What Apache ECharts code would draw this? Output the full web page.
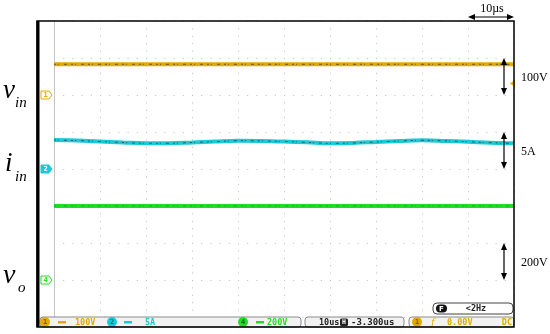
<!DOCTYPE html>
<html>
<head>
<meta charset="utf-8">
<script src="https://cdn.jsdelivr.net/npm/echarts@6/dist/echarts.min.js"></script>
<style>
html, body { margin: 0; padding: 0; background: #fff; }
#main { width: 550px; height: 334px; }
</style>
</head>
<body>
<div id="main"></div>
<script>
// time base in µs, 10 div x 10µs/div
const timeUs = [0, 5, 10, 15, 20, 25, 30, 35, 40, 45, 50, 55, 60, 65, 70, 75, 80, 85, 90, 95, 100];
// ch1 input voltage (V)
const vinV = [83, 83, 83, 83, 83, 83, 83, 83, 83, 83, 83, 83, 83, 83, 83, 83, 83, 83, 83, 83, 83];
// ch2 input current (A), small ripple
const iinA = [3.92, 3.84, 3.72, 3.58, 3.47, 3.48, 3.58, 3.70, 3.82, 3.80, 3.72, 3.60, 3.47, 3.52, 3.65, 3.78, 3.88, 3.80, 3.68, 3.55, 3.47];
// ch4 output voltage (V)
const voV = [400, 400, 400, 400, 400, 400, 400, 400, 400, 400, 400, 400, 400, 400, 400, 400, 400, 400, 400, 400, 400];

// channel settings: scale per division and ground marker (divisions from top)
const perDiv = [100, 5, 200];
const scaleLabels = ['100V', '5A', '200V'];
const groundDiv = [2, 4, 7];
const chNames = ['1', '2', '4'];
const chColors = ['#e2aa00', '#1cc9d6', '#22dd22'];
const timeLabel = '10µs';

window.onload = () => {
    let chart = echarts.init(document.getElementById('main'));

    const dotX = { color: '#bcbcbc', width: 1, type: [1, 6.4] };
    const dotY = { color: '#bcbcbc', width: 1, type: [1, 8.2] };

    const yAxes = perDiv.map((s, k) => ({
        type: 'value',
        min: -(8 - groundDiv[k]) * s,
        max: groundDiv[k] * s,
        interval: s,
        show: k === 0,
        axisLabel: { show: false },
        axisTick: { show: false },
        axisLine: { show: k === 0, lineStyle: { color: '#c4c4c4', width: 1 } },
        splitLine: { show: k === 0, lineStyle: dotY }
    }));

    const traces = [vinV, iinA, voV];
    let series = [];
    traces.forEach((vals, k) => {
        let pts = timeUs.map((t, i) => [t, vals[i]]);
        series.push({
            type: 'line', yAxisIndex: k, data: pts, showSymbol: false, smooth: 0.4,
            silent: true, lineStyle: { color: chColors[k], width: 4 }, z: 3
        });
        // dark acquisition speckles on the trace
        series.push({
            type: 'line', yAxisIndex: k, data: pts, showSymbol: false, smooth: 0.4,
            silent: true, lineStyle: { color: '#1a1a1a', width: 1, type: [2, 2, 1, 5, 3, 4], opacity: k === 2 ? 0.25 : 0.6 }, z: 4
        });
    });

    let option = {
        animation: false,
        backgroundColor: '#fff',
        grid: { left: 54, top: 21, width: 460, height: 296 },
        xAxis: {
            type: 'value', min: 0, max: 100, interval: 10,
            axisLabel: { show: false }, axisTick: { show: false },
            axisLine: { show: false },
            splitLine: { show: true, lineStyle: dotX }
        },
        yAxis: yAxes,
        series: series
    };
    chart.setOption(option);

    // annotations placed from the axes
    const px = (t) => chart.convertToPixel({ xAxisIndex: 0 }, t);
    const py = (k, v) => chart.convertToPixel({ yAxisIndex: k }, v);
    const right = px(100), top = py(0, yAxes[0].max);

    let g = [];
    const arrowV = (x, y1, y2) => {
        g.push({ type: 'line', shape: { x1: x, y1: y1 + 5, x2: x, y2: y2 - 5 }, style: { stroke: '#000', lineWidth: 1.2 }, z: 20 });
        g.push({ type: 'polygon', shape: { points: [[x, y1], [x - 3, y1 + 7], [x + 3, y1 + 7]] }, style: { fill: '#000' }, z: 20 });
        g.push({ type: 'polygon', shape: { points: [[x, y2], [x - 3, y2 - 7], [x + 3, y2 - 7]] }, style: { fill: '#000' }, z: 20 });
    };
    const arrowH = (x1, x2, y) => {
        g.push({ type: 'line', shape: { x1: x1 + 5, y1: y, x2: x2 - 5, y2: y }, style: { stroke: '#000', lineWidth: 1.2 }, z: 20 });
        g.push({ type: 'polygon', shape: { points: [[x1, y], [x1 + 7, y - 3], [x1 + 7, y + 3]] }, style: { fill: '#000' }, z: 20 });
        g.push({ type: 'polygon', shape: { points: [[x2, y], [x2 - 7, y - 3], [x2 - 7, y + 3]] }, style: { fill: '#000' }, z: 20 });
    };

    // frame
    g.push({ type: 'rect', shape: { x: 37, y: top, width: right - 37, height: 327 - top }, style: { fill: null, stroke: '#000', lineWidth: 1.5 }, z: 30 });
    g.push({ type: 'line', shape: { x1: 38, y1: top, x2: 38, y2: 327 }, style: { stroke: '#000', lineWidth: 3 }, z: 30 });

    // scale arrows and labels
    perDiv.forEach((s, k) => {
        let y0 = py(k, 0), y1 = py(k, s);
        arrowV(right - 10, y1, y0);
        g.push({ type: 'text', x: right + 7, y: (y0 + y1) / 2 + 1, style: { text: scaleLabels[k], fontFamily: 'Liberation Serif', fontSize: 12, fill: '#000', verticalAlign: 'middle' }, z: 20 });
    });
    arrowH(px(90), right, 17);
    g.push({ type: 'text', x: (px(90) + right) / 2 + 1, y: 9, style: { text: timeLabel, fontFamily: 'Liberation Serif', fontSize: 12, fill: '#000', align: 'center', verticalAlign: 'middle' }, z: 20 });

    // channel ground markers
    chNames.forEach((n, k) => {
        let y = py(k, 0);
        let filled = k === 1;
        g.push({ type: 'polygon', shape: { points: [[41, y - 4], [49, y - 4], [52, y], [49, y + 4], [41, y + 4]] },
            style: { fill: filled ? chColors[k] : '#fff', stroke: chColors[k], lineWidth: 1 }, z: 20 });
        g.push({ type: 'text', x: 45.5, y: y + 0.5, style: { text: n, fontFamily: 'DejaVu Sans Mono', fontSize: 7, fontWeight: 'bold', fill: filled ? '#fff' : chColors[k], align: 'center', verticalAlign: 'middle' }, z: 21 });
    });
    // trigger level marker
    g.push({ type: 'polygon', shape: { points: [[510, 83.5], [515, 80], [515, 87]] }, style: { fill: chColors[0] }, z: 19 });

    // signal names
    const nameText = (x, y, t, size) => g.push({ type: 'text', x: x, y: y, style: { text: t, fontFamily: 'Liberation Serif', fontStyle: 'italic', fontSize: size, fill: '#000', verticalAlign: 'middle' }, z: 20 });
    nameText(3, 91, 'v', 27); nameText(15, 103, 'in', 15);
    nameText(5, 164, 'i', 27); nameText(15, 177, 'in', 15);
    nameText(3, 276, 'v', 28); nameText(18, 288, 'o', 15);

    // status bar
    const seg = (x1, x2) => g.push({ type: 'rect', shape: { x: x1, y: 317, width: x2 - x1, height: 10, r: 3 }, style: { fill: '#f2f2f2', stroke: '#8a8a8a', lineWidth: 1 }, z: 25 });
    seg(40, 301); seg(305, 404); seg(409, 514);
    const sText = (x, t, c, align, size) => g.push({ type: 'text', x: x, y: 322.5, style: { text: t, fontFamily: 'DejaVu Sans Mono', fontSize: size || 8.5, fontWeight: 'bold', fill: c, align: align || 'left', verticalAlign: 'middle' }, z: 26 });
    const badge = (x, t, c, tc) => {
        g.push({ type: 'circle', shape: { cx: x, cy: 322, r: 5 }, style: { fill: c }, z: 26 });
        g.push({ type: 'text', x: x, y: 322.5, style: { text: t, fontFamily: 'DejaVu Sans Mono', fontSize: 7, fontWeight: 'bold', fill: tc, align: 'center', verticalAlign: 'middle' }, z: 27 });
    };
    const dcMark = (x, c) => g.push({ type: 'rect', shape: { x: x, y: 321, width: 8, height: 2.5 }, style: { fill: c }, z: 26 });
    badge(45, '1', chColors[0], '#7a5a00'); dcMark(58, chColors[0]); sText(75, '100V', chColors[0]);
    badge(112, '2', chColors[1], '#0a6a80'); dcMark(124, chColors[1]); sText(145, '5A', chColors[1]);
    badge(243, '4', chColors[2], '#0a6a0a'); dcMark(256, chColors[2]); sText(267, '200V', chColors[2]);
    sText(319, '10us', '#222');
    g.push({ type: 'rect', shape: { x: 340, y: 318.5, width: 8, height: 7.5, r: 1.5 }, style: { fill: '#222' }, z: 26 });
    g.push({ type: 'text', x: 344, y: 322.5, style: { text: 'H', fontFamily: 'DejaVu Sans Mono', fontSize: 6.5, fontWeight: 'bold', fill: '#fff', align: 'center', verticalAlign: 'middle' }, z: 27 });
    sText(351, '-3.300us', '#222', 'left', 9);
    badge(417, '1', chColors[0], '#7a5a00');
    g.push({ type: 'text', x: 433, y: 322.5, style: { text: 'ƒ', fontFamily: 'DejaVu Serif', fontStyle: 'italic', fontSize: 9, fill: chColors[0], align: 'center', verticalAlign: 'middle' }, z: 26 });
    sText(447, '0.00V', chColors[0]);
    sText(512, 'DC', chColors[0], 'right');

    // frequency box
    g.push({ type: 'rect', shape: { x: 433, y: 303, width: 80, height: 11, r: 4 }, style: { fill: '#fff', stroke: '#444', lineWidth: 1 }, z: 25 });
    g.push({ type: 'rect', shape: { x: 436, y: 304.5, width: 11, height: 8, r: 4 }, style: { fill: '#111' }, z: 26 });
    g.push({ type: 'text', x: 441.5, y: 308.8, style: { text: 'F', fontFamily: 'DejaVu Sans', fontSize: 7, fontWeight: 'bold', fill: '#fff', align: 'center', verticalAlign: 'middle' }, z: 27 });
    g.push({ type: 'text', x: 476, y: 309, style: { text: '<2Hz', fontFamily: 'DejaVu Sans Mono', fontSize: 8.5, fontWeight: 'bold', fill: '#222', align: 'center', verticalAlign: 'middle' }, z: 26 });

    chart.setOption({ graphic: g });
};
</script>
</body>
</html>
